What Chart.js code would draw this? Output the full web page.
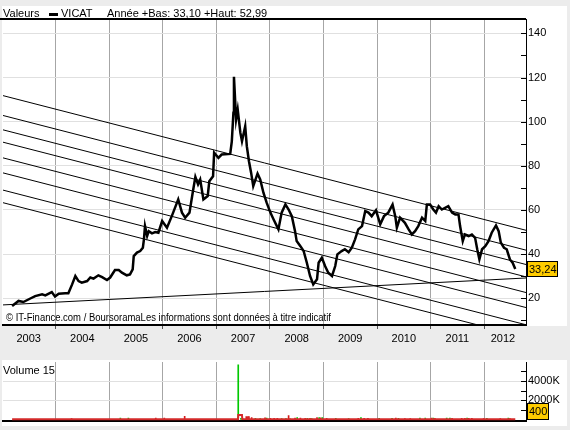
<!DOCTYPE html>
<html>
<head>
<meta charset="utf-8">
<script src="https://cdn.jsdelivr.net/npm/chart.js@4.4.1/dist/chart.umd.min.js"></script>
<style>
body { margin: 0; background: #ececec; width: 570px; height: 430px; overflow: hidden; }
#main { position: absolute; left: 0; top: 0; }
#vol { position: absolute; left: 0; top: 350px; }
</style>
</head>
<body>
<canvas id="main" width="570" height="350"></canvas>
<canvas id="vol" width="570" height="80"></canvas>
<script>
// VICAT daily close (decimal year, EUR)
const priceDates = [
  2003.19, 2003.31, 2003.40, 2003.53, 2003.62, 2003.75, 2003.81, 2003.93, 2003.99, 2004.06,
  2004.18, 2004.24, 2004.31, 2004.37, 2004.43, 2004.49, 2004.59, 2004.65, 2004.71, 2004.80,
  2004.87, 2004.96, 2005.02, 2005.11, 2005.18, 2005.24, 2005.33, 2005.39, 2005.44, 2005.46,
  2005.52, 2005.58, 2005.63, 2005.65, 2005.67, 2005.71, 2005.74, 2005.80, 2005.86, 2005.92,
  2005.99, 2006.08, 2006.17, 2006.29, 2006.36, 2006.42, 2006.50, 2006.56, 2006.61, 2006.66,
  2006.70, 2006.76, 2006.84, 2006.87, 2006.94, 2006.96, 2007.04, 2007.10, 2007.26, 2007.29,
  2007.32, 2007.33, 2007.37, 2007.40, 2007.45, 2007.48, 2007.54, 2007.57, 2007.61, 2007.65,
  2007.69, 2007.77, 2007.82, 2007.88, 2007.94, 2008.01, 2008.07, 2008.16, 2008.22, 2008.29,
  2008.35, 2008.41, 2008.47, 2008.50, 2008.57, 2008.63, 2008.69, 2008.75, 2008.81, 2008.88,
  2008.91, 2008.97, 2009.03, 2009.09, 2009.16, 2009.22, 2009.26, 2009.34, 2009.40, 2009.47,
  2009.53, 2009.59, 2009.65, 2009.72, 2009.78, 2009.84, 2009.90, 2009.98, 2010.06, 2010.13,
  2010.21, 2010.29, 2010.34, 2010.37, 2010.43, 2010.52, 2010.59, 2010.65, 2010.71, 2010.77,
  2010.84, 2010.90, 2010.93, 2010.99, 2011.05, 2011.10, 2011.15, 2011.21, 2011.27, 2011.33,
  2011.40, 2011.46, 2011.52, 2011.55, 2011.60, 2011.64, 2011.71, 2011.77, 2011.83, 2011.87,
  2011.91, 2011.96, 2012.02, 2012.08, 2012.14, 2012.22, 2012.27, 2012.31, 2012.37, 2012.42,
  2012.48, 2012.53, 2012.58
]
const priceValues = [
  16.5, 18.8, 18.3, 19.9, 21.0, 21.8, 21.3, 22.8, 20.8, 22.1,
  22.3, 22.3, 26.3, 30.1, 27.8, 27.1, 27.8, 29.4, 28.9, 30.4,
  29.6, 28.3, 29.4, 32.8, 32.8, 31.6, 30.4, 30.8, 33.1, 39.1,
  40.7, 41.4, 42.9, 46.7, 52.7, 48.2, 50.4, 49.4, 50.0, 49.7,
  55.0, 52.0, 57.2, 64.8, 58.8, 56.5, 58.8, 67.8, 75.0, 71.6,
  73.8, 64.8, 66.3, 73.0, 75.3, 85.9, 83.6, 85.1, 85.4, 91.1,
  104.0, 120.3, 101.0, 105.5, 94.9, 91.1, 97.9, 88.9, 82.1, 76.9,
  70.8, 76.5, 73.8, 67.8, 63.3, 58.8, 55.7, 51.2, 58.8, 62.5,
  60.2, 57.2, 50.4, 45.9, 43.6, 41.4, 36.1, 30.1, 26.3, 28.6,
  36.1, 38.4, 34.6, 31.6, 30.1, 34.6, 39.9, 41.4, 42.2, 40.9,
  42.9, 46.7, 51.2, 52.7, 59.5, 58.8, 57.2, 59.9, 53.5, 57.2,
  58.8, 62.5, 57.2, 52.0, 56.5, 54.2, 51.2, 48.9, 50.4, 52.7,
  56.5, 55.0, 62.5, 62.5, 60.2, 58.8, 61.7, 60.2, 61.0, 61.7,
  58.8, 58.0, 58.0, 52.7, 45.9, 48.9, 48.2, 48.9, 47.4, 42.2,
  37.6, 42.2, 43.6, 45.9, 49.7, 53.0, 50.4, 45.2, 42.9, 42.2,
  37.6, 36.1, 33.24
]

// descending channel lines, value at start and end of the time axis
const xStart = 2003.02
const xEnd = 2012.78
const channelLeft = [111.8, 102.8, 96.3, 90.7, 83.6, 76.8, 69.0, 63.3]
const channelRight = [50.8, 41.8, 35.3, 29.7, 22.6, 15.8, 8.0, 2.3]
const supportLine = [17.0, 29.2]

const yearTicks = [2004, 2005, 2006, 2007, 2008, 2009, 2010, 2011, 2012]
const yearLabelPos = [2003.5, 2004.5, 2005.5, 2006.5, 2007.5, 2008.5, 2009.5, 2010.5, 2011.5, 2012.35]
const yearLabels = ['2003', '2004', '2005', '2006', '2007', '2008', '2009', '2010', '2011', '2012']
const priceTicks = [10, 20, 30, 40, 50, 60, 70, 80, 90, 100, 110, 120, 130, 140]

// volume (thousands of shares), up = green bar
const volDates = [
  2004.30, 2005.21, 2005.36, 2005.87, 2006.03, 2006.41, 2007.41, 2007.46, 2007.49, 2007.56,
  2007.59, 2007.61, 2007.66, 2007.73, 2007.82, 2007.91, 2007.94, 2008.01, 2008.08, 2008.14,
  2008.22, 2008.30, 2008.35, 2008.38, 2008.47, 2008.51, 2008.57, 2008.66, 2008.70, 2008.75,
  2008.78, 2008.88, 2008.92, 2008.95, 2008.98, 2009.06, 2009.23, 2009.47, 2009.65, 2009.70,
  2009.76, 2009.83, 2010.04, 2010.28, 2010.35, 2010.40, 2010.52, 2010.62, 2010.80, 2010.90,
  2011.02, 2011.05, 2011.08, 2011.30, 2011.36, 2011.40, 2011.58, 2011.64, 2011.68, 2011.71,
  2011.77, 2011.99, 2012.05, 2012.30, 2012.45, 2012.48
]
const volValues = [
  100, 150, 150, 150, 150, 330, 5690, 120, 100, 290,
  290, 290, 200, 120, 100, 180, 150, 120, 120, 120,
  100, 100, 400, 80, 150, 200, 150, 120, 120, 120,
  100, 200, 200, 180, 200, 120, 120, 100, 120, 200,
  120, 120, 120, 120, 150, 120, 100, 100, 150, 150,
  150, 150, 120, 150, 150, 120, 120, 120, 150, 120,
  120, 100, 120, 100, 150, 100
]
const volUp = [
  0, 1, 1, 0, 0, 0, 1, 1, 1, 0,
  0, 0, 0, 1, 1, 0, 1, 0, 0, 0,
  1, 1, 0, 1, 0, 1, 0, 0, 1, 0,
  1, 0, 1, 0, 1, 0, 1, 1, 0, 1,
  0, 0, 1, 1, 0, 1, 0, 0, 1, 1,
  0, 1, 0, 1, 1, 0, 0, 0, 1, 0,
  0, 0, 1, 0, 1, 0
]
// 15 day average volume
const volAvgDates = [2003.19, 2007.405, 2007.41, 2007.48, 2007.485, 2012.58]
const volAvgValues = [30, 30, 460, 460, 40, 30]
const volTicks = [1000, 2000, 3000, 4000, 5000]

Chart.defaults.font.family = '"Liberation Sans", Arial, sans-serif'
Chart.defaults.font.size = 11
Chart.defaults.color = '#000'

const font11 = '11px "Liberation Sans", Arial, sans-serif'

function innerTicks(ctx, scale, area, values)
{
    ctx.strokeStyle = '#000'
    ctx.lineWidth = 1
    values.forEach(v => {
        const py = Math.round(scale.getPixelForValue(v)) + 0.5
        ctx.beginPath()
        ctx.moveTo(area.right - 5, py)
        ctx.lineTo(area.right, py)
        ctx.stroke()
    })
}

const mainDecor = {
    id: 'mainDecor',
    beforeDraw(chart) {
        const ctx = chart.ctx
        ctx.save()
        ctx.fillStyle = '#fff'
        ctx.fillRect(2, 6, 565, 320)
        ctx.restore()
    },
    afterDraw(chart) {
        const ctx = chart.ctx
        const area = chart.chartArea
        const y = chart.scales.y
        ctx.save()
        ctx.strokeStyle = '#000'
        ctx.lineWidth = 2
        ctx.beginPath()
        ctx.moveTo(0, area.top)
        ctx.lineTo(area.right, area.top)
        ctx.stroke()
        innerTicks(ctx, y, area, priceTicks)

        ctx.fillStyle = '#000'
        ctx.font = font11
        ctx.textBaseline = 'alphabetic'
        ctx.fillText('Valeurs', 3, 17)
        ctx.fillRect(49, 13, 9, 3)
        ctx.fillText('VICAT', 61, 17)
        ctx.fillText('Année +Bas: 33,10 +Haut: 52,99', 107, 17)

        ctx.font = '10px "Liberation Sans", Arial, sans-serif'
        ctx.fillText('© IT-Finance.com / BoursoramaLes informations sont données à titre indicatif', 6, 321, 325)

        const last = priceValues[priceValues.length - 1]
        const py = Math.round(y.getPixelForValue(last))
        ctx.fillStyle = '#ffcc00'
        ctx.fillRect(527, py - 8, 30, 16)
        ctx.lineWidth = 1
        ctx.strokeRect(527.5, py - 7.5, 30, 15)
        ctx.fillStyle = '#000'
        ctx.font = font11
        ctx.textBaseline = 'middle'
        ctx.fillText(last.toFixed(2).replace('.', ','), 529, py + 1)
        ctx.restore()
    }
}

const lineSets = channelLeft.map((v, i) => ({
    data: [{x: xStart, y: v}, {x: xEnd, y: channelRight[i]}],
    borderColor: '#000',
    borderWidth: 1,
    pointRadius: 0,
    order: 2
}))
lineSets.push({
    data: [{x: xStart, y: supportLine[0]}, {x: xEnd, y: supportLine[1]}],
    borderColor: '#000',
    borderWidth: 1,
    pointRadius: 0,
    order: 2
})

const mainChart = new Chart(document.getElementById('main').getContext('2d'), {
    type: 'line',
    data: {
        datasets: [{
            label: 'VICAT',
            data: priceDates.map((t, i) => ({x: t, y: priceValues[i]})),
            borderColor: '#000',
            borderWidth: 2.5,
            pointRadius: 0,
            tension: 0,
            order: 1
        }].concat(lineSets)
    },
    options: {
        responsive: false,
        animation: false,
        devicePixelRatio: 1,
        layout: { padding: { left: 3, top: 19, right: 0, bottom: 0 } },
        plugins: { legend: { display: false }, tooltip: { enabled: false } },
        scales: {
            x: {
                type: 'linear',
                min: xStart,
                max: xEnd,
                afterBuildTicks: s => { s.ticks = yearTicks.concat(yearLabelPos).map(v => ({value: v})) },
                afterFit: s => { s.height = 25 },
                ticks: {
                    autoSkip: false,
                    maxRotation: 0,
                    padding: 3,
                    callback: v => {
                        const i = yearLabelPos.indexOf(v)
                        return i >= 0 ? yearLabels[i] : ''
                    }
                },
                grid: {
                    color: c => (c.tick && yearTicks.includes(c.tick.value)) ? '#a6a6a6' : 'rgba(0,0,0,0)',
                    tickColor: c => (c.tick && yearTicks.includes(c.tick.value)) ? '#555' : 'rgba(0,0,0,0)',
                    tickLength: 4
                },
                border: { color: '#000', width: 2 }
            },
            y: {
                position: 'right',
                min: 7.9,
                max: 146.5,
                afterBuildTicks: s => { s.ticks = priceTicks.map(v => ({value: v})) },
                afterFit: s => { s.width = 44 },
                ticks: {
                    autoSkip: false,
                    padding: 2,
                    callback: v => v % 20 === 0 ? String(v) : ''
                },
                grid: {
                    drawTicks: false,
                    color: c => (c.tick && c.tick.value % 20 === 0) ? '#e0e0e0' : 'rgba(0,0,0,0)'
                },
                border: { color: '#000', width: 1 }
            }
        }
    },
    plugins: [mainDecor]
})

const volDecor = {
    id: 'volDecor',
    beforeDraw(chart) {
        const ctx = chart.ctx
        ctx.save()
        ctx.fillStyle = '#fff'
        ctx.fillRect(2, 10, 565, 66)
        ctx.restore()
    },
    afterDraw(chart) {
        const ctx = chart.ctx
        const area = chart.chartArea
        const y = chart.scales.y
        ctx.save()
        innerTicks(ctx, y, area, volTicks)
        ctx.fillStyle = '#000'
        ctx.font = font11
        ctx.textBaseline = 'alphabetic'
        ctx.fillText('Volume 15', 3, 24)

        const base = Math.round(y.getPixelForValue(0))
        ctx.fillStyle = '#ffcc00'
        ctx.fillRect(527, base - 16, 22, 17)
        ctx.lineWidth = 1
        ctx.strokeRect(527.5, base - 15.5, 21, 16)
        ctx.fillStyle = '#000'
        ctx.textBaseline = 'middle'
        ctx.fillText('400', 529, base - 7)
        ctx.restore()
    }
}

const volChart = new Chart(document.getElementById('vol').getContext('2d'), {
    type: 'line',
    data: {
        datasets: [{
            type: 'bar',
            data: volDates.map((t, i) => ({x: t, y: volValues[i]})),
            backgroundColor: volUp.map(u => u ? '#00c800' : '#d41c1c'),
            barThickness: 1,
            order: 2
        }, {
            type: 'line',
            data: volAvgDates.map((t, i) => ({x: t, y: volAvgValues[i]})),
            borderColor: '#d42a2a',
            borderWidth: 2,
            pointRadius: 0,
            order: 1
        }]
    },
    options: {
        responsive: false,
        animation: false,
        devicePixelRatio: 1,
        layout: { padding: { left: 3, top: 12, right: 0, bottom: 0 } },
        plugins: { legend: { display: false }, tooltip: { enabled: false } },
        scales: {
            x: {
                type: 'linear',
                min: xStart,
                max: xEnd,
                offset: false,
                afterBuildTicks: s => { s.ticks = yearTicks.map(v => ({value: v})) },
                afterFit: s => { s.height = 5 },
                ticks: { display: false },
                grid: { offset: false, drawTicks: false, color: '#a6a6a6' },
                border: { color: '#000', width: 2 }
            },
            y: {
                position: 'right',
                min: -200,
                max: 5980,
                afterBuildTicks: s => { s.ticks = volTicks.map(v => ({value: v})) },
                afterFit: s => { s.width = 44 },
                ticks: {
                    autoSkip: false,
                    padding: 2,
                    callback: v => v % 2000 === 0 ? v + 'K' : ''
                },
                grid: {
                    drawTicks: false,
                    color: c => (c.tick && c.tick.value % 2000 === 0) ? '#e0e0e0' : 'rgba(0,0,0,0)'
                },
                border: { color: '#000', width: 1 }
            }
        }
    },
    plugins: [volDecor]
})
</script>
</body>
</html>
